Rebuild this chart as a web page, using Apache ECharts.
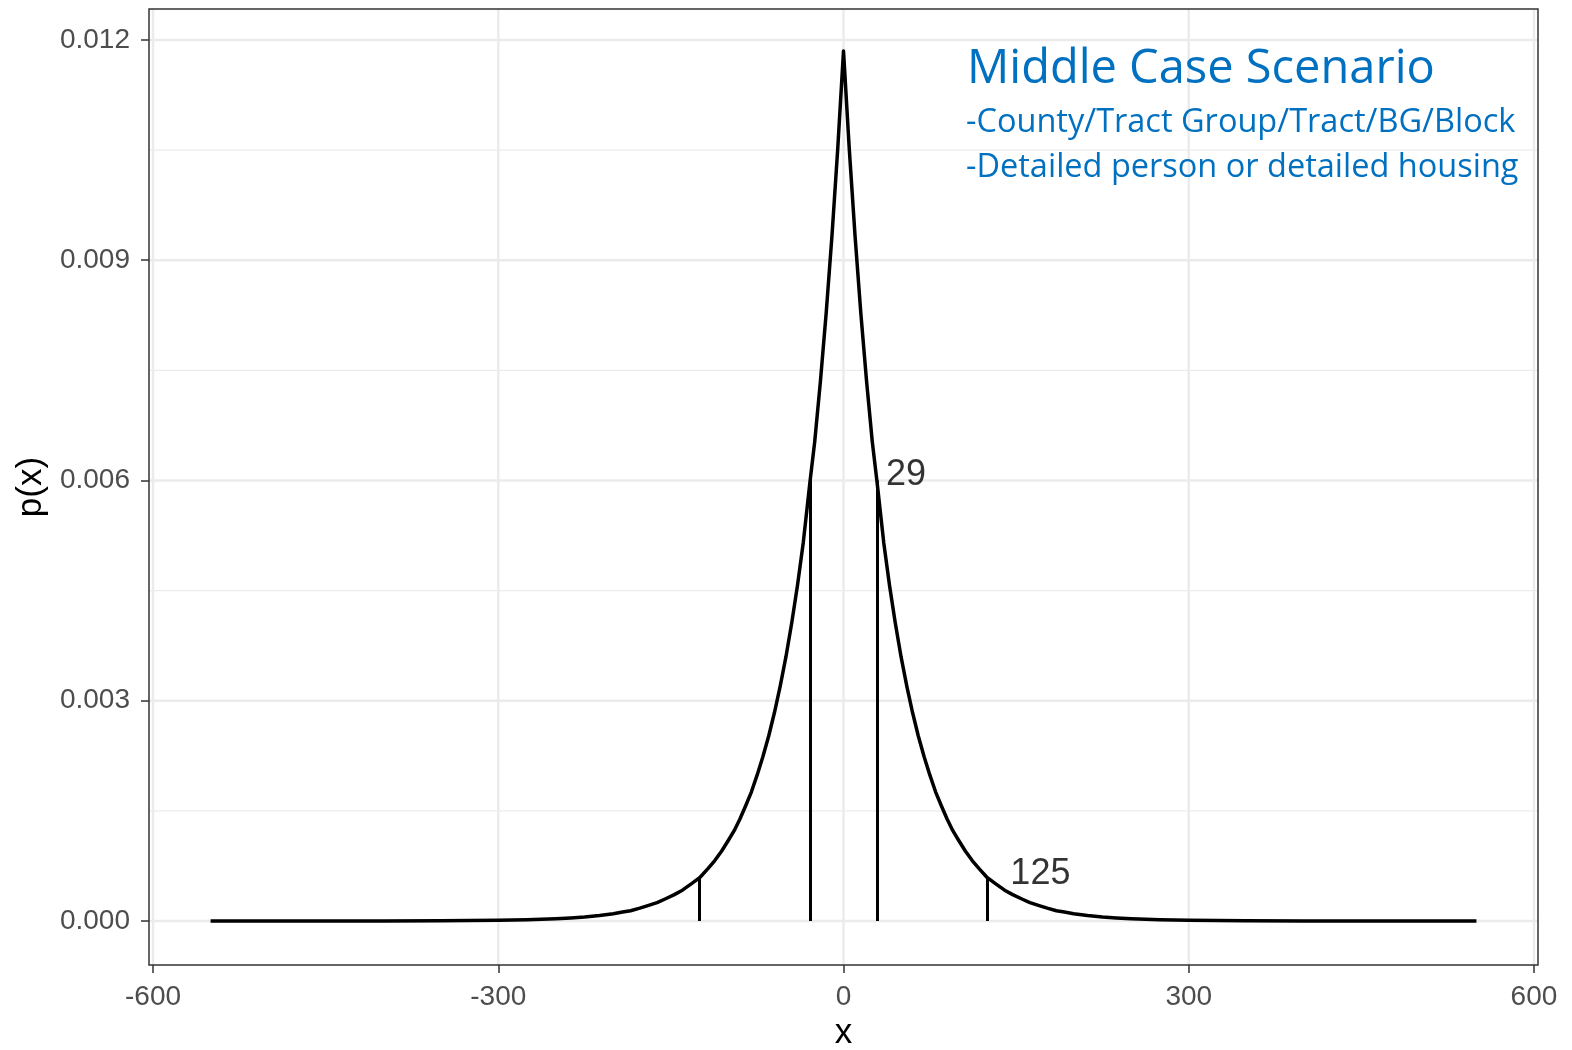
<!DOCTYPE html>
<html>
<head>
<meta charset="utf-8">
<title>Middle Case Scenario</title>
<script src="https://cdn.jsdelivr.net/npm/echarts@6/dist/echarts.min.js"></script>
<style>
    html, body { margin: 0; padding: 0; background: #fff; }
    #main { width: 1572px; height: 1050px; }
</style>
</head>
<body>
<div id="main"></div>
<script>
// curve points
var xValues = [-550, -500, -450, -400, -350, -300, -275, -250, -237, -225, -212, -200, -192, -185, -177, -170, -162, -155, -147, -140,
    -132, -125, -118, -112, -106, -100, -95, -90, -85, -80, -75, -70, -65, -60, -55, -50, -45, -40, -35, -29, -25, -20, -15, -10, -5,
    0, 5, 10, 15, 20, 25, 29, 35, 40, 45, 50, 55, 60, 65, 70, 75, 80, 85, 90, 95, 100, 106, 112, 118, 125,
    132, 140, 147, 155, 162, 170, 177, 185, 192, 200, 212, 225, 237, 250, 275, 300, 350, 400, 450, 500, 550];
var pValues = [0, 0, 0, 0.000001, 0.000003, 0.000009, 0.000017, 0.000031, 0.000042, 0.000056, 0.000076, 0.00010, 0.000122, 0.00014, 0.000175, 0.00021, 0.00025, 0.00030, 0.00036, 0.00042,
    0.00051, 0.00059, 0.00071, 0.00082, 0.00095, 0.00110, 0.00123, 0.00139, 0.00157, 0.00176, 0.00199, 0.00224, 0.00252, 0.00284, 0.00320, 0.00360, 0.00406, 0.00457, 0.00515, 0.00600, 0.00653, 0.00736, 0.00829, 0.00934, 0.01052,
    0.01185, 0.01052, 0.00934, 0.00829, 0.00736, 0.00653, 0.00600, 0.00515, 0.00457, 0.00406, 0.00360, 0.00320, 0.00284, 0.00252, 0.00224, 0.00199, 0.00176, 0.00157, 0.00139, 0.00123, 0.00110, 0.00095, 0.00082, 0.00071, 0.00059,
    0.00051, 0.00042, 0.00036, 0.00030, 0.00025, 0.00021, 0.000175, 0.00014, 0.000122, 0.00010, 0.000076, 0.000056, 0.000042, 0.000031, 0.000017, 0.000009, 0.000003, 0.000001, 0, 0, 0];

// vertical cut lines
var cutX = [-125, -29, 29, 125];
var cutP = [0.00059, 0.00600, 0.00600, 0.00059];

// text labels next to the cuts
var labelText = ['29', '125'];
var labelX = [37, 145];
var labelP = [0.00607, 0.00064];

// axis ticks
var xTicks = [-600, -300, 0, 300, 600];
var yTicks = [0, 0.003, 0.006, 0.009, 0.012];
var yMinor = [0.0015, 0.0045, 0.0075, 0.0105];

var tickFont = 'Liberation Sans, Arial, sans-serif';

var myChart = echarts.init(document.getElementById('main'));

// grid lines: [value, 0 = vertical / 1 = horizontal, width]
var gridLines = [];
xTicks.forEach(function (v) { gridLines.push([v, 0, 2.5]); });
yTicks.forEach(function (v) { gridLines.push([v, 1, 2.5]); });
yMinor.forEach(function (v) { gridLines.push([v, 1, 1.2]); });

var cutLines = [];
for (var i = 0; i < cutX.length; i++) {
    cutLines.push([{ coord: [cutX[i], 0] }, { coord: [cutX[i], cutP[i]] }]);
}

var curve = [];
for (var j = 0; j < xValues.length; j++) {
    curve.push([xValues[j], pValues[j]]);
}

var labels = [];
for (var k = 0; k < labelText.length; k++) {
    labels.push([labelX[k], labelP[k], labelText[k]]);
}

function renderGridLine(params, api) {
    var cs = params.coordSys;
    var v = api.value(0);
    var shape;
    if (api.value(1) === 0) {
        var px = api.coord([v, 0])[0];
        shape = { x1: px, y1: cs.y, x2: px, y2: cs.y + cs.height };
    } else {
        var py = api.coord([0, v])[1];
        shape = { x1: cs.x, y1: py, x2: cs.x + cs.width, y2: py };
    }
    return {
        type: 'line',
        shape: shape,
        style: { stroke: '#ebebeb', lineWidth: api.value(2) }
    };
}

var option = {
    animation: false,
    backgroundColor: '#fff',
    grid: {
        left: 149,
        top: 9,
        width: 1389,
        height: 956,
        outerBoundsMode: 'none',
        containLabel: false,
        show: true,
        borderColor: '#333333',
        borderWidth: 1.5,
        backgroundColor: 'transparent',
        z: 5
    },
    xAxis: {
        type: 'value',
        min: -603.5,
        max: 603.5,
        name: 'x',
        nameLocation: 'middle',
        nameGap: 50,
        nameTextStyle: { fontSize: 35, color: '#000', fontFamily: tickFont },
        axisLine: { show: false, onZero: false },
        axisTick: { show: true, length: 8, customValues: xTicks, lineStyle: { color: '#333333', width: 1.5 } },
        axisLabel: { fontSize: 28, color: '#4d4d4d', margin: 18, fontFamily: tickFont, customValues: xTicks },
        splitLine: { show: false }
    },
    yAxis: {
        type: 'value',
        min: -0.000599,
        max: 0.012422,
        name: 'p(x)',
        nameLocation: 'middle',
        nameGap: 100,
        nameTextStyle: { fontSize: 35, color: '#000', fontFamily: tickFont },
        axisLine: { show: false, onZero: false },
        axisTick: { show: true, length: 8, customValues: yTicks, lineStyle: { color: '#333333', width: 1.5 } },
        axisLabel: {
            fontSize: 28, color: '#4d4d4d', margin: 19, fontFamily: tickFont, customValues: yTicks,
            formatter: function (v) { return v.toFixed(3); }
        },
        splitLine: { show: false }
    },
    graphic: [
        { type: 'text', z: 100, x: 967, y: 70, style: { text: 'Middle Case Scenario', fill: '#0070C0', font: '47px "Open Sans", sans-serif', verticalAlign: 'middle' } },
        { type: 'text', z: 100, x: 966, y: 123, style: { text: '-County/Tract Group/Tract/BG/Block', fill: '#0070C0', font: '32.5px "Open Sans", sans-serif', verticalAlign: 'middle' } },
        { type: 'text', z: 100, x: 966, y: 168, style: { text: '-Detailed person or detailed housing', fill: '#0070C0', font: '32.5px "Open Sans", sans-serif', verticalAlign: 'middle' } }
    ],
    series: [
        {
            // panel grid lines
            type: 'custom',
            data: gridLines,
            z: 1,
            silent: true,
            clip: false,
            renderItem: renderGridLine
        },
        {
            type: 'line',
            data: curve,
            z: 3,
            showSymbol: false,
            silent: true,
            lineStyle: { color: '#000', width: 3.5, join: 'round' },
            markLine: {
                silent: true,
                symbol: ['none', 'none'],
                label: { show: false },
                lineStyle: { color: '#000', width: 3, type: 'solid' },
                data: cutLines
            }
        },
        {
            type: 'scatter',
            data: labels,
            z: 4,
            symbolSize: 0,
            silent: true,
            label: {
                show: true,
                position: 'right',
                distance: 0,
                color: '#000',
                fontSize: 36,
                fontFamily: tickFont,
                formatter: function (p) { return p.data[2]; }
            }
        }
    ]
};

myChart.setOption(option);
</script>
</body>
</html>
